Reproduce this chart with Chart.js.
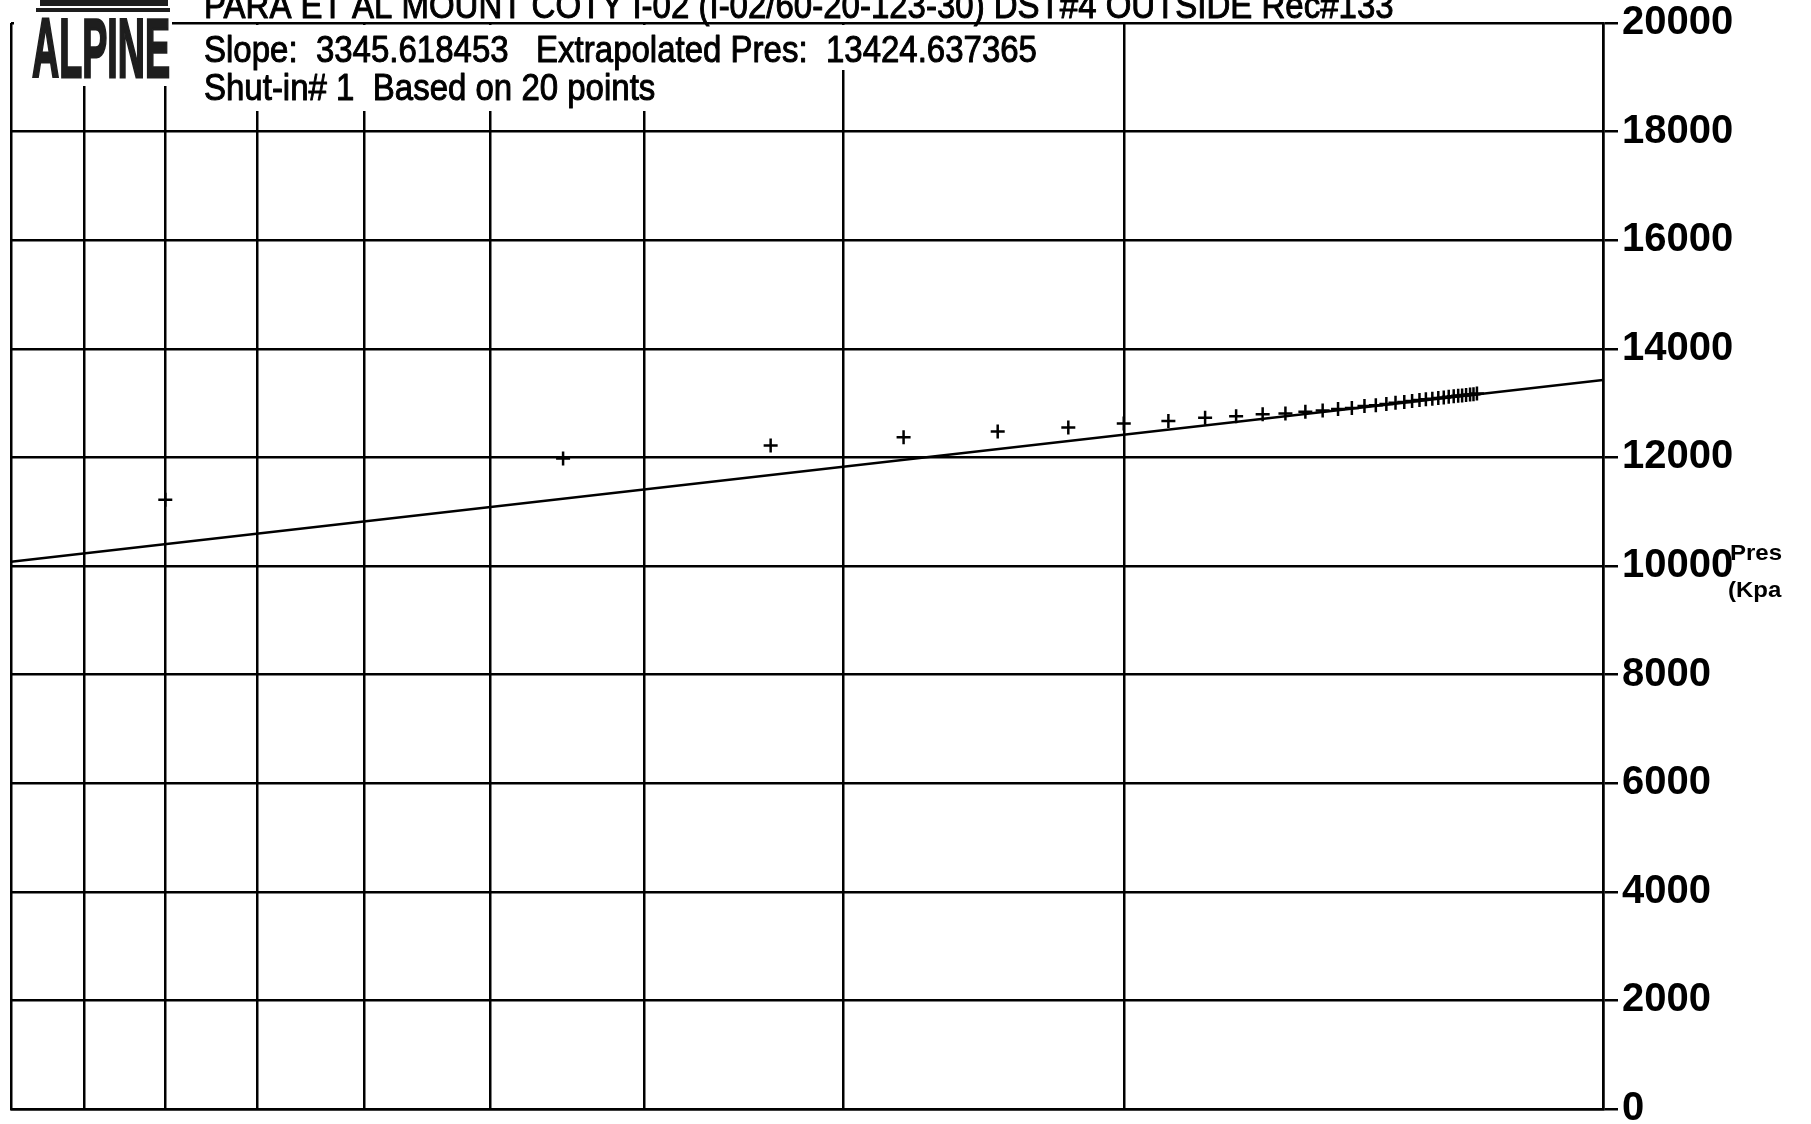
<!DOCTYPE html>
<html>
<head>
<meta charset="utf-8">
<script src="https://cdn.jsdelivr.net/npm/chart.js@4.4.1/dist/chart.umd.min.js"></script>
<style>
  html, body { margin: 0; padding: 0; background: #ffffff; }
  #wrap { width: 1811px; height: 1124px; position: relative; overflow: hidden; }
  canvas { display: block; }
</style>
</head>
<body>
<div id="wrap"><canvas id="c" width="1811" height="1124"></canvas></div>
<script>
// ---- Data ----
// Horner time ratio (tp+dt)/dt for each plotted point
const hornerRatio = [8, 4.5, 3.333, 2.75, 2.4, 2.167, 2, 1.875, 1.778, 1.7,
  1.636, 1.583, 1.538, 1.5, 1.467, 1.438, 1.412, 1.389, 1.368, 1.35,
  1.333, 1.318, 1.304, 1.292, 1.28, 1.269, 1.259, 1.25, 1.241, 1.233,
  1.226, 1.219, 1.212, 1.206, 1.2];
// Shut-in pressure (kPa) at each point
const pressure = [11220, 11980, 12220, 12370, 12475, 12550, 12625, 12670, 12730, 12760,
  12795, 12810, 12840, 12865, 12890, 12910, 12945, 12960, 12985, 13005,
  13020, 13040, 13055, 13070, 13080, 13095, 13105, 13115, 13125, 13135,
  13140, 13150, 13160, 13165, 13175];
// Straight-line fit end points (Horner ratio, pressure)
const fitRatio = [10, 1];
const fitPressure = [10079.02, 13424.64];
// Axis tick values
const xGridValues = [1, 2, 3, 4, 5, 6, 7, 8, 9, 10];
const yTickValues = [0, 2000, 4000, 6000, 8000, 10000, 12000, 14000, 16000, 18000, 20000];

const titleText = 'PARA ET AL MOUNT COTY I-02 (I-02/60-20-123-30) DST#4 OUTSIDE Rec#133';
const line1Text = 'Slope:  3345.618453   Extrapolated Pres:  13424.637365';
const line2Text = 'Shut-in# 1  Based on 20 points';
const logoText = 'ALPINE';
const unitTop = 'Pres';
const unitBottom = '(Kpa';

const FONT = '"Liberation Sans", Arial, Helvetica, sans-serif';

function stretchedText(ctx, text, x, baseline, font, sy, stroke) {
  ctx.save();
  ctx.translate(x, baseline);
  ctx.scale(1, sy);
  ctx.font = font;
  ctx.textBaseline = 'alphabetic';
  ctx.textAlign = 'left';
  ctx.fillStyle = '#000';
  ctx.fillText(text, 0, 0);
  if (stroke) {
    ctx.strokeStyle = '#000';
    ctx.lineWidth = stroke;
    ctx.lineJoin = 'round';
    ctx.strokeText(text, 0, 0);
  }
  ctx.restore();
}

const headerPlugin = {
  id: 'header',
  afterDraw(chart) {
    const ctx = chart.ctx;
    ctx.save();
    // white areas behind logo and header text (they hide the grid there)
    ctx.fillStyle = '#ffffff';
    ctx.fillRect(14, 0, 158, 86);
    ctx.fillRect(172, 25, 868, 45);
    ctx.fillRect(172, 70, 484, 41);

    // logo bars
    ctx.fillStyle = '#1e1e1e';
    ctx.fillRect(40, 0, 128, 6);
    ctx.fillRect(36, 8, 134, 4);
    // logo text
    ctx.save();
    ctx.font = 'bold 60px ' + FONT;
    const w = ctx.measureText(logoText).width;
    ctx.translate(32, 77);
    ctx.scale(138 / w, 60 / (0.716 * 60));
    ctx.fillStyle = '#1e1e1e';
    ctx.textBaseline = 'alphabetic';
    ctx.fillText(logoText, 0, 0);
    ctx.strokeStyle = '#1e1e1e';
    ctx.lineWidth = 2;
    ctx.strokeText(logoText, 0, 0);
    ctx.restore();

    // header text
    stretchedText(ctx, titleText, 204, 18, '33px ' + FONT, 1.14, 0.9);
    stretchedText(ctx, line1Text, 204, 62, '33px ' + FONT, 1.14, 0.9);
    stretchedText(ctx, line2Text, 204, 100, '33px ' + FONT, 1.14, 0.9);

    // axis unit label
    stretchedText(ctx, unitTop, 1730, 560, 'bold 24px ' + FONT, 0.95, 0);
    stretchedText(ctx, unitBottom, 1728, 597, 'bold 24px ' + FONT, 0.95, 0);
    ctx.restore();
  }
};

const ctx = document.getElementById('c').getContext('2d');
new Chart(ctx, {
  type: 'scatter',
  data: {
    datasets: [
      {
        label: 'fit',
        data: fitRatio.map((x, i) => ({ x: x, y: fitPressure[i] })),
        showLine: true,
        borderColor: '#000',
        borderWidth: 2.5,
        pointRadius: 0,
        fill: false
      },
      {
        label: 'points',
        data: hornerRatio.map((x, i) => ({ x: x, y: pressure[i] })),
        pointStyle: 'cross',
        pointRadius: 7,
        pointBorderWidth: 2.5,
        borderColor: '#000',
        backgroundColor: '#000'
      }
    ]
  },
  options: {
    responsive: false,
    devicePixelRatio: 1,
    animation: false,
    events: [],
    layout: { padding: { left: 11, top: 23, right: 0, bottom: 0 } },
    plugins: { legend: { display: false }, tooltip: { enabled: false } },
    scales: {
      x: {
        type: 'logarithmic',
        reverse: true,
        min: 1,
        max: 10,
        afterBuildTicks(scale) { scale.ticks = xGridValues.map(v => ({ value: v })); },
        afterFit(scale) { scale.height = 15; scale.paddingLeft = 0; scale.paddingRight = 0; },
        ticks: { display: false },
        grid: { color: '#000', lineWidth: 2.5, drawTicks: false },
        border: { display: true, color: '#000', width: 2.5 }
      },
      y: {
        type: 'linear',
        position: 'right',
        min: 0,
        max: 20000,
        afterBuildTicks(scale) { scale.ticks = yTickValues.map(v => ({ value: v })); },
        afterFit(scale) { scale.width = 208; scale.paddingTop = 0; scale.paddingBottom = 0; },
        ticks: {
          color: '#000',
          padding: 4,
          font: { family: FONT, size: 40, weight: 'bold' },
          callback: (v) => String(v)
        },
        grid: { color: '#000', lineWidth: 2.5, drawTicks: true, tickLength: 15 },
        border: { display: true, color: '#000', width: 2.5 }
      }
    }
  },
  plugins: [headerPlugin]
});
</script>
</body>
</html>
